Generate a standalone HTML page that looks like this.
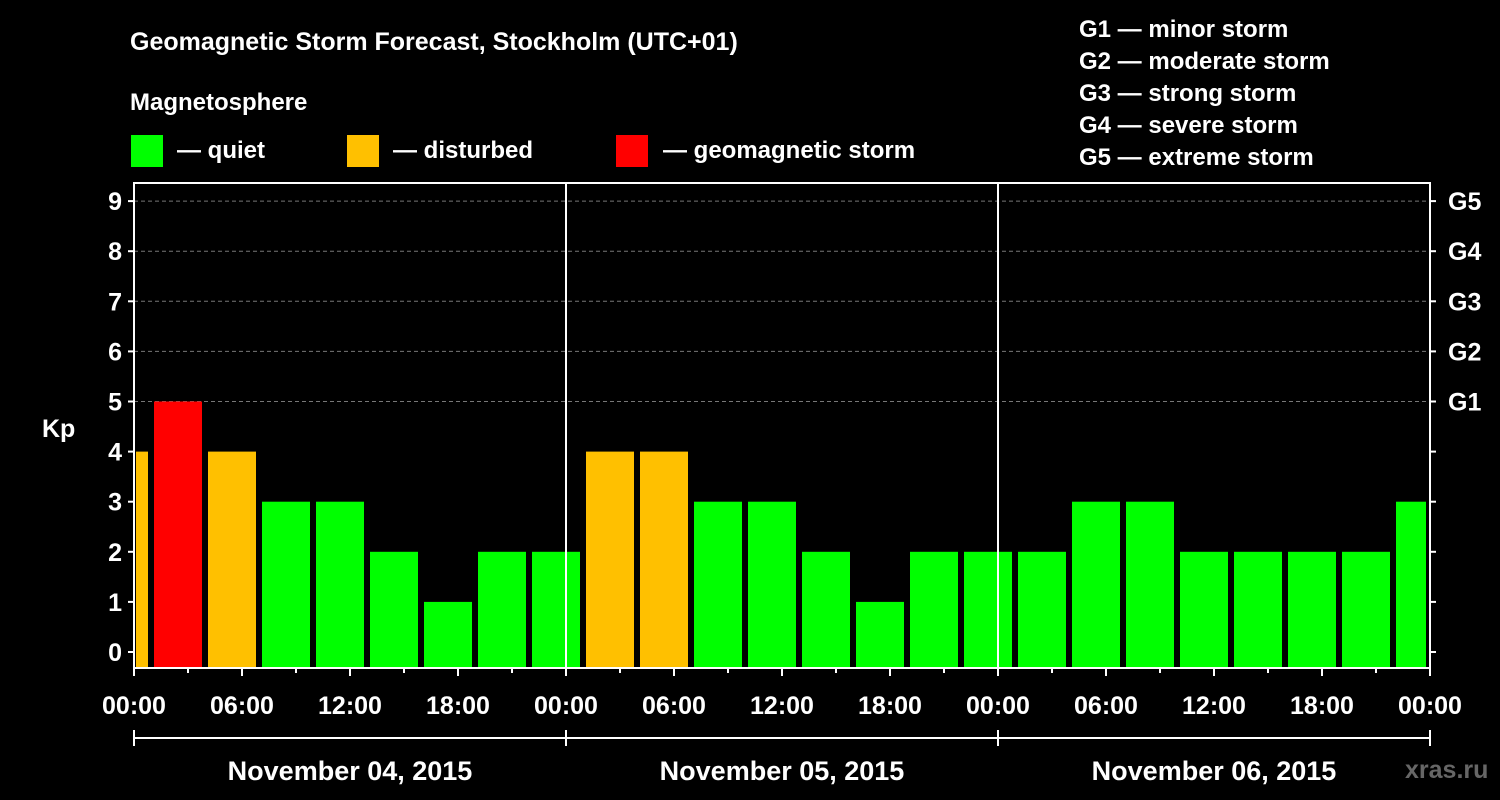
<!DOCTYPE html>
<html><head><meta charset="utf-8"><style>
body{margin:0;background:#000;}
svg{display:block;font-family:"Liberation Sans",Arial,sans-serif;font-weight:bold;}
</style></head><body>
<svg id="c" width="1500" height="800" viewBox="0 0 1500 800">
<rect width="1500" height="800" fill="#000"/>
<text x="130" y="50" fill="#fff" font-size="25">Geomagnetic Storm Forecast, Stockholm (UTC+01)</text>
<text x="130" y="110" fill="#fff" font-size="24">Magnetosphere</text>
<g><rect x="131" y="135" width="32" height="32" fill="#00ff00"/><text x="177" y="158" fill="#fff" font-size="24">— quiet</text></g>
<g><rect x="347" y="135" width="32" height="32" fill="#ffc000"/><text x="393" y="158" fill="#fff" font-size="24">— disturbed</text></g>
<g><rect x="616" y="135" width="32" height="32" fill="#ff0000"/><text x="663" y="158" fill="#fff" font-size="24">— geomagnetic storm</text></g>
<g fill="#fff" font-size="24">
<text x="1079" y="37">G1 — minor storm</text><text x="1079" y="69">G2 — moderate storm</text><text x="1079" y="101">G3 — strong storm</text><text x="1079" y="133">G4 — severe storm</text><text x="1079" y="165">G5 — extreme storm</text></g>
<text x="42" y="437" fill="#fff" font-size="25">Kp</text>
<text x="1405" y="778" fill="#666" font-size="25">xras.ru</text>
<g id="grid"></g><g id="bars"></g><g id="axes"></g>
</svg>
<script>
const startValue = 4;
const barValues = [5,4,3,3,2,1,2,2, 4,4,3,3,2,1,2,2, 2,3,3,2,2,2,2];
const endValue = 3;
const yTicks = [0,1,2,3,4,5,6,7,8,9];
const gLabels = ["G1","G2","G3","G4","G5"];
const xLabels = ["00:00","06:00","12:00","18:00","00:00","06:00","12:00","18:00","00:00","06:00","12:00","18:00","00:00"];
const dayLabels = ["November 04, 2015","November 05, 2015","November 06, 2015"];

const NS="http://www.w3.org/2000/svg";
const X0=134,X1=1430,YT=183,YB=668,HOURS=72;
const xs=h=>X0+(X1-X0)*h/HOURS;
const ys=v=>652-50.1*v;
const col=v=>v>=5?"#ff0000":v>=4?"#ffc000":"#00ff00";
function mk(t,a,p){const e=document.createElementNS(NS,t);for(const k in a)e.setAttribute(k,a[k]);p.appendChild(e);return e;}
const grid=document.getElementById('grid'),bars=document.getElementById('bars'),axes=document.getElementById('axes');
yTicks.forEach(v=>{if(v>=5){const l=mk('line',{x1:X0,x2:X1,y1:ys(v),y2:ys(v),stroke:'#777','stroke-dasharray':'4,3'},grid);

}});
function bar(h0,h1,v,i){const r=mk('rect',{x:xs(h0)+2,y:ys(v),width:xs(h1)-xs(h0)-6,height:YB-ys(v),fill:col(v)},bars);

}
bar(0,1,startValue,'start');
barValues.forEach((v,i)=>bar(1+3*i,4+3*i,v,i));
bar(70,72,endValue,'end');
const fr=mk('rect',{x:X0,y:YT,width:X1-X0,height:YB-YT,fill:'none',stroke:'#fff','stroke-width':2},axes);


[24,48].forEach(h=>{const l=mk('line',{x1:xs(h),x2:xs(h),y1:YT,y2:YB,stroke:'#fff','stroke-width':2},axes);

});
yTicks.forEach(v=>{mk('line',{x1:X0-6,x2:X0,y1:ys(v),y2:ys(v),stroke:'#fff','stroke-width':2},axes);
mk('line',{x1:X1,x2:X1+6,y1:ys(v),y2:ys(v),stroke:'#fff','stroke-width':2},axes);
const t=mk('text',{x:X0-12,y:ys(v)+9,fill:'#fff','font-size':25,'text-anchor':'end'},axes);t.textContent=v;


if(v>=5){const g=mk('text',{x:X1+18,y:ys(v)+9,fill:'#fff','font-size':25},axes);g.textContent=gLabels[v-5];

}});
for(let h=0;h<=HOURS;h+=3){mk('line',{x1:xs(h),x2:xs(h),y1:YB,y2:YB+(h%6?5:8),stroke:'#fff','stroke-width':2},axes);}
xLabels.forEach((s,i)=>{const t=mk('text',{x:xs(i*6),y:714,fill:'#fff','font-size':25,'text-anchor':'middle'},axes);t.textContent=s;

});
mk('line',{x1:X0,x2:X1,y1:738,y2:738,stroke:'#fff','stroke-width':2},axes);
for(let d=0;d<=3;d++)mk('line',{x1:xs(d*24),x2:xs(d*24),y1:730,y2:746,stroke:'#fff','stroke-width':2},axes);
dayLabels.forEach((s,i)=>{const t=mk('text',{x:xs(i*24+12),y:780,fill:'#fff','font-size':27,'text-anchor':'middle'},axes);t.textContent=s;

});
</script>
</body></html>
